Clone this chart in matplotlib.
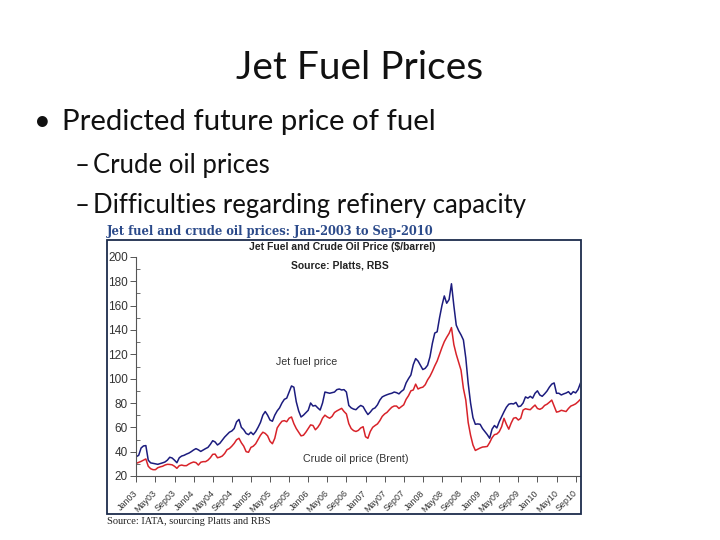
import matplotlib
matplotlib.use('Agg')
import matplotlib.pyplot as plt
from matplotlib.patches import Rectangle
from matplotlib.ticker import MultipleLocator
from matplotlib.transforms import ScaledTranslation
import numpy as np

## DATA ($/barrel, half-month steps from Jan-2003)
nMonthStep = 0.5
vJetFuel = [
    35.9, 37, 43, 44.7, 45, 33, 30.8, 30.4, 30, 29.6, 30.2, 30.8, 31.5, 33, 35.4, 34.8,
    33, 30.9, 35, 36.4, 37, 38, 38.8, 40, 41.4, 42.5, 41.5, 40.2, 41.4, 42.5, 43.5, 46,
    49, 48, 45.5, 46.9, 49.5, 52, 54, 56, 57, 59, 64.5, 66.5, 60, 58, 55, 54,
    56, 54, 56.5, 60, 64, 70, 73, 70, 66, 65, 70, 73.5, 76, 80, 83, 84,
    89, 94, 93, 81, 73.5, 68.5, 70, 72, 74, 80, 77.5, 78, 76, 74.2, 80, 89,
    88.5, 88, 88.5, 89, 91, 91.5, 90.7, 91, 89, 78, 76, 75, 74.5, 76.5, 78, 77,
    73.5, 70.5, 72.5, 75, 76, 78.5, 82.4, 85, 86, 86.8, 87.5, 88, 89, 88.5, 87.5, 89.5,
    91, 96.5, 100, 103, 111.5, 116.5, 114.5, 111, 107.5, 108.5, 111, 118, 129, 137.5, 138.5, 150,
    160, 168, 162, 165, 178, 160, 144, 139.5, 136, 131.8, 117, 96.2, 80, 68, 62.5, 62.8,
    62.5, 59, 56.5, 54, 51, 58.5, 61.5, 59.5, 64.6, 68.7, 72.8, 76.5, 79, 79.5, 79.2, 80.5,
    77, 77.5, 80, 85, 84, 85.5, 84, 88, 90, 86.6, 85.5, 87.5, 89.8, 93, 95.5, 96.5,
    88, 88, 86.6, 87.5, 88.2, 89.3, 87, 89.3, 88.3, 91, 96.2]
vCrudeOil = [
    30.4, 31.2, 32, 33, 34, 28, 26, 25.2, 25.2, 26.8, 27.5, 28, 29, 29.6, 29.5, 29.2,
    28, 26.3, 28.5, 29, 28.5, 28.5, 29.8, 30.8, 31.5, 31, 29, 31.3, 31.8, 31.8, 33, 35,
    37.8, 38, 35, 35.5, 36.4, 38.5, 41.6, 42.6, 44.5, 46.8, 49.8, 51, 47.3, 44.5, 40, 39.5,
    43.5, 44.5, 46.5, 50, 53.5, 56, 55, 53, 48.5, 46.5, 51, 59.5, 62.5, 65, 65.5, 64.6,
    67.5, 68.5, 63, 59, 56, 53, 53.5, 56, 59, 62, 61.5, 58, 60, 63, 67.5, 70,
    68.5, 67.5, 69, 72.2, 73.5, 74.5, 75.6, 73, 71, 63, 59, 57.3, 56.6, 57.5, 59.5, 60.5,
    52.3, 51, 56.6, 60, 61.5, 62.8, 65.5, 69, 71, 72.3, 74.5, 76.5, 77.5, 77.5, 75.5, 77,
    78.5, 83, 86, 90, 90.7, 95.5, 91.5, 92.5, 93, 95, 99, 102, 106, 110.5, 114.5, 120,
    125.5, 130.4, 134, 137.2, 142, 128, 120, 113.5, 107, 92, 82.4, 64, 53.5, 45.5, 41, 42,
    43, 43.8, 44, 44.3, 47.5, 51.5, 54, 54.5, 56.4, 60.5, 67.4, 62.5, 58.5, 63.5, 67.5, 68,
    66, 67.4, 74.2, 75.3, 74.8, 74.5, 76.5, 78.3, 75.5, 74.8, 75.8, 78, 79, 80.6, 82.4, 77.5,
    72.5, 73, 74, 73.5, 73, 75.5, 77.5, 78.3, 79.3, 81, 83]
vTickYears = list(range(3, 11))
vTickLabels = [f'{sMon}{nYr:02d}' for nYr in vTickYears for sMon in ['Jan', 'May', 'Sep']]

## SLIDE HELPERS
W_PX, H_PX = 720, 540
def FigX(x): return x / W_PX
def FigY(y): return 1 - y / H_PX

fig = plt.figure(figsize=(7.2, 5.4), dpi=100)
fig.patch.set_facecolor('white')

# Slide title and bullets (Calibri look-alike)
SLIDE_FONT = ['Lato', 'DejaVu Sans']
fig.text(FigX(360), FigY(68), 'Jet Fuel Prices', ha='center', va='center', fontsize=28, family=SLIDE_FONT, color='#111111')
fig.text(FigX(34), FigY(122), '•', ha='left', va='center', fontsize=21, family=SLIDE_FONT, color='#111111')
fig.text(FigX(62), FigY(122), 'Predicted future price of fuel', ha='left', va='center', fontsize=21.2, family=SLIDE_FONT, color='#111111')
fig.text(FigX(75), FigY(165), '–', ha='left', va='center', fontsize=18.5, family=SLIDE_FONT, color='#111111')
fig.text(FigX(93), FigY(165), 'Crude oil prices', ha='left', va='center', fontsize=18.5, family=SLIDE_FONT, color='#111111')
fig.text(FigX(75), FigY(206), '–', ha='left', va='center', fontsize=18.5, family=SLIDE_FONT, color='#111111')
fig.text(FigX(93), FigY(206), 'Difficulties regarding refinery capacity', ha='left', va='center', fontsize=18.5, family=SLIDE_FONT, color='#111111')

# Embedded chart: caption, frame, footer
fig.text(FigX(107), FigY(231), 'Jet fuel and crude oil prices: Jan-2003 to Sep-2010', ha='left', va='center',
         fontsize=8.3, family='DejaVu Serif', weight='bold', color='#2b4a8a')
fig.patches.append(Rectangle((FigX(107), FigY(514)), FigX(581) - FigX(107), FigY(240) - FigY(514),
                             transform=fig.transFigure, fill=False, edgecolor='#1c2c4c', linewidth=1.3))
fig.text(FigX(107), FigY(521), 'Source: IATA, sourcing Platts and RBS', ha='left', va='center',
         fontsize=7.5, family='Liberation Serif', color='#222222')
fig.text(FigX(342), FigY(247), 'Jet Fuel and Crude Oil Price ($/barrel)', ha='center', va='center',
         fontsize=7.5, family='Liberation Sans', weight='bold', color='#222222')
fig.text(FigX(340), FigY(265), 'Source: Platts, RBS', ha='center', va='center',
         fontsize=7.5, family='Liberation Sans', weight='bold', color='#222222')

## PLOT
ax = fig.add_axes([FigX(136.3), FigY(476), FigX(580.4) - FigX(136.3), FigY(257) - FigY(476)])
vX = np.arange(len(vJetFuel)) * nMonthStep
ax.plot(vX, vJetFuel, color='#1c1c7e', linewidth=1.1)
ax.plot(vX, vCrudeOil, color='#d8232a', linewidth=1.1)
ax.set_xlim(0, 93)
ax.set_ylim(20, 200)
ax.yaxis.set_major_locator(MultipleLocator(20))
ax.yaxis.set_minor_locator(MultipleLocator(10))
ax.set_xticks(np.arange(0, 93, 4))
ax.set_xticks([], minor=True)
ax.set_xticklabels(vTickLabels, rotation=45, ha='right', rotation_mode='anchor')
for sSide in ['top', 'right']:
    ax.spines[sSide].set_visible(False)
for sSide in ['left', 'bottom']:
    ax.spines[sSide].set_color('#555555')
    ax.spines[sSide].set_linewidth(0.8)
ax.tick_params(axis='y', which='major', direction='out', length=4, width=0.7, color='#555555', labelsize=8.5, labelcolor='#333333', pad=2)
ax.tick_params(axis='y', which='minor', direction='in', length=3, width=0.6, color='#555555')
ax.tick_params(axis='x', which='major', direction='out', length=4, width=0.7, color='#555555', labelsize=6.4, labelcolor='#333333', pad=5)
oShift = ScaledTranslation(-3 / 100, 0, fig.dpi_scale_trans)
for oLbl in ax.get_xticklabels():
    oLbl.set_family('Liberation Sans')
    oLbl.set_transform(oLbl.get_transform() + oShift)
for oLbl in ax.get_yticklabels():
    oLbl.set_family('Liberation Sans')
ax.text(35.7, 113.7, 'Jet fuel price', ha='center', va='center', fontsize=7.7, family='Liberation Sans', color='#333333')
ax.text(46.0, 34, 'Crude oil price (Brent)', ha='center', va='center', fontsize=7.7, family='Liberation Sans', color='#333333')

fig.savefig('out.png', dpi=100, facecolor='white')
